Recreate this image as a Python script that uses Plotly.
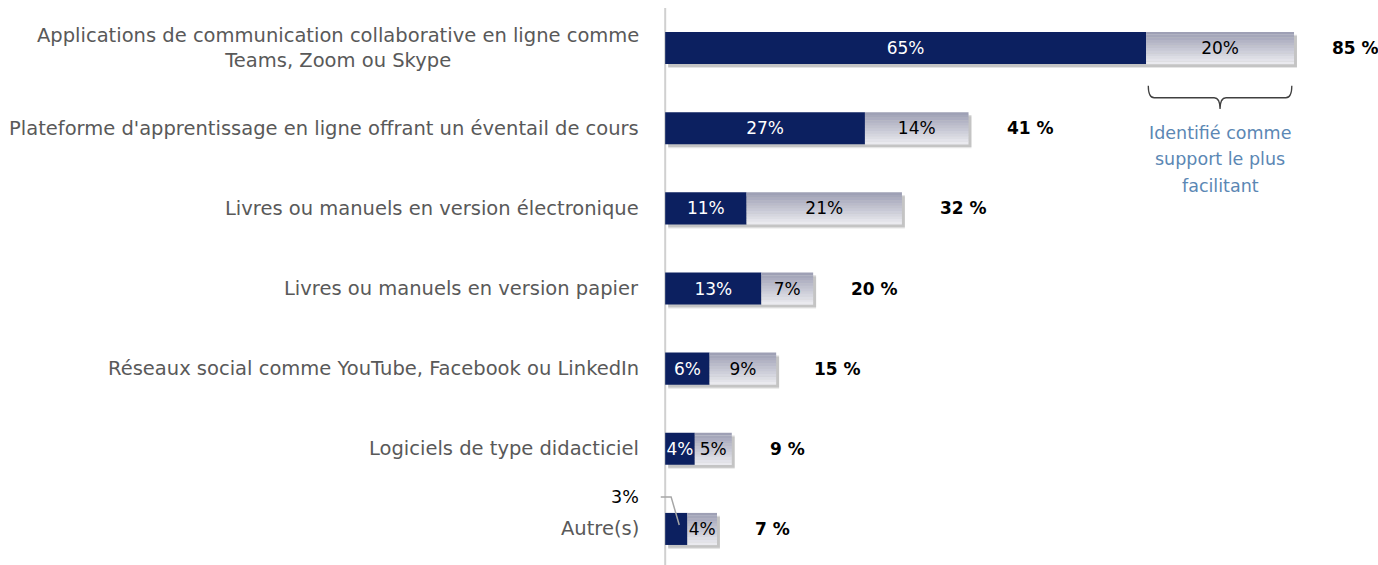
import plotly.graph_objects as go

# Supports used during training (share of respondents, %)
categories = [
    "Applications de communication collaborative en ligne comme<br>Teams, Zoom ou Skype",
    "Plateforme d'apprentissage en ligne offrant un éventail de cours",
    "Livres ou manuels en version électronique",
    "Livres ou manuels en version papier",
    "Réseaux social comme YouTube, Facebook ou LinkedIn",
    "Logiciels de type didacticiel",
    "Autre(s)",
]
most_helpful = [65, 27, 11, 13, 6, 4, 3]   # identified as the most helpful support
also_used = [20, 14, 21, 7, 9, 5, 4]        # other mentions
totals = [85, 41, 32, 20, 15, 9, 7]
caption_lines = ["Identifié comme", "support le plus", "facilitant"]

NAVY = "#0c2060"
LABEL_GREY = "#595959"
FONT = "DejaVu Sans"
BAR_W = 0.4

ypos = list(range(len(categories)))
fig = go.Figure()

# soft drop shadow behind each full bar
for k, alpha in enumerate([0.10, 0.14]):
    fig.add_trace(go.Bar(
        y=ypos, x=totals, base=[0.4] * len(totals), orientation="h",
        width=BAR_W, offset=-BAR_W / 2 + 0.05 - 0.015 * k,
        marker=dict(color=f"rgba(0,0,0,{alpha})", line=dict(width=0)),
        hoverinfo="skip", showlegend=False,
    ))

# most helpful segment
fig.add_trace(go.Bar(
    y=ypos, x=most_helpful, base=0, orientation="h",
    width=BAR_W, offset=-BAR_W / 2,
    marker=dict(color=NAVY, line=dict(width=0)),
    text=[f"{v}%" if v >= 4 else "" for v in most_helpful],
    textposition="inside", insidetextanchor="middle", textangle=0,
    textfont=dict(family=FONT, size=17, color="white"),
    hoverinfo="skip", showlegend=False,
))

# other mentions: grey segment with a vertical gradient built from thin bands
N_BANDS = 12
top_rgb = (158, 160, 181)
bottom_rgb = (234, 234, 239)
for i in range(N_BANDS):
    t = i / (N_BANDS - 1)
    r, g, b = (round(a + (c - a) * t) for a, c in zip(top_rgb, bottom_rgb))
    fig.add_trace(go.Bar(
        y=ypos, x=also_used, base=most_helpful, orientation="h",
        width=BAR_W / N_BANDS + 0.002, offset=-BAR_W / 2 + i * BAR_W / N_BANDS,
        marker=dict(color=f"rgb({r},{g},{b})", line=dict(width=0)),
        hoverinfo="skip", showlegend=False,
    ))

# labels of the grey segment
fig.add_trace(go.Bar(
    y=ypos, x=also_used, base=most_helpful, orientation="h",
    width=BAR_W, offset=-BAR_W / 2,
    marker=dict(color="rgba(0,0,0,0)", line=dict(width=0)),
    text=[f"{v}%" for v in also_used],
    textposition="inside", insidetextanchor="middle", textangle=0,
    textfont=dict(family=FONT, size=17, color="black"),
    hoverinfo="skip", showlegend=False,
))

annotations = []
# category labels
for y, cat in zip(ypos, categories):
    annotations.append(dict(
        x=0, xref="paper", y=y, yref="y", text=cat, showarrow=False,
        xanchor="right", yanchor="middle", align="center", xshift=-2,
        font=dict(family=FONT, size=19.5, color=LABEL_GREY),
    ))
# total labels
for y, tot in zip(ypos, totals):
    annotations.append(dict(
        x=tot, y=y, text=f"<b>{tot} %</b>", showarrow=False,
        xanchor="left", yanchor="middle", xshift=36,
        font=dict(family=FONT, size=17, color="black"),
    ))
# small segment of the last row, labelled outside with a leader line
last = len(categories) - 1
annotations.append(dict(
    x=0, xref="paper", y=last - 0.4, text="3%", showarrow=False,
    xanchor="right", yanchor="middle", xshift=-2,
    font=dict(family=FONT, size=17.5, color="black"),
))
# bracket caption, one annotation per line for wider line spacing
for j, line in enumerate(caption_lines):
    annotations.append(dict(
        x=(most_helpful[0] + totals[0]) / 2, y=1.06 + 0.33 * j, text=line,
        showarrow=False, xanchor="center", yanchor="middle",
        font=dict(family=FONT, size=17.5, color="#5b87b4"),
    ))

shapes = [
    # value axis baseline
    dict(type="line", xref="x", yref="paper", x0=0, x1=0, y0=0, y1=1,
         line=dict(color="#d0d0d0", width=2), layer="below"),
    # leader line for the 3% label
    dict(type="path", xref="x", yref="y",
         path=f"M -0.6,{last - 0.4} L 0.8,{last - 0.4} L 1.9,{last - 0.05}",
         line=dict(color="#a6a6a6", width=1.5)),
]
# curly bracket under the grey segment of the first bar
x0, x1 = most_helpful[0] + 0.3, totals[0] - 0.3
xm = (x0 + x1) / 2
ya, yb, yc = 0.47, 0.62, 0.76
shapes.append(dict(
    type="path", xref="x", yref="y",
    path=(f"M {x0},{ya} Q {x0},{yb} {x0 + 0.8},{yb} L {xm - 0.8},{yb} "
          f"Q {xm},{yb} {xm},{yc} Q {xm},{yb} {xm + 0.8},{yb} "
          f"L {x1 - 0.8},{yb} Q {x1},{yb} {x1},{ya}"),
    line=dict(color="#404040", width=1.3),
))

fig.update_layout(
    width=1378, height=565,
    margin=dict(l=643, r=0, t=8, b=0),
    paper_bgcolor="white", plot_bgcolor="white",
    barmode="overlay",
    xaxis=dict(range=[-3, 96.35], visible=False, fixedrange=True),
    yaxis=dict(range=[6.45, -0.5], visible=False, fixedrange=True),
    uniformtext=dict(minsize=17, mode="show"),
    annotations=annotations,
    shapes=shapes,
    showlegend=False,
)

fig.write_html("out.html")
